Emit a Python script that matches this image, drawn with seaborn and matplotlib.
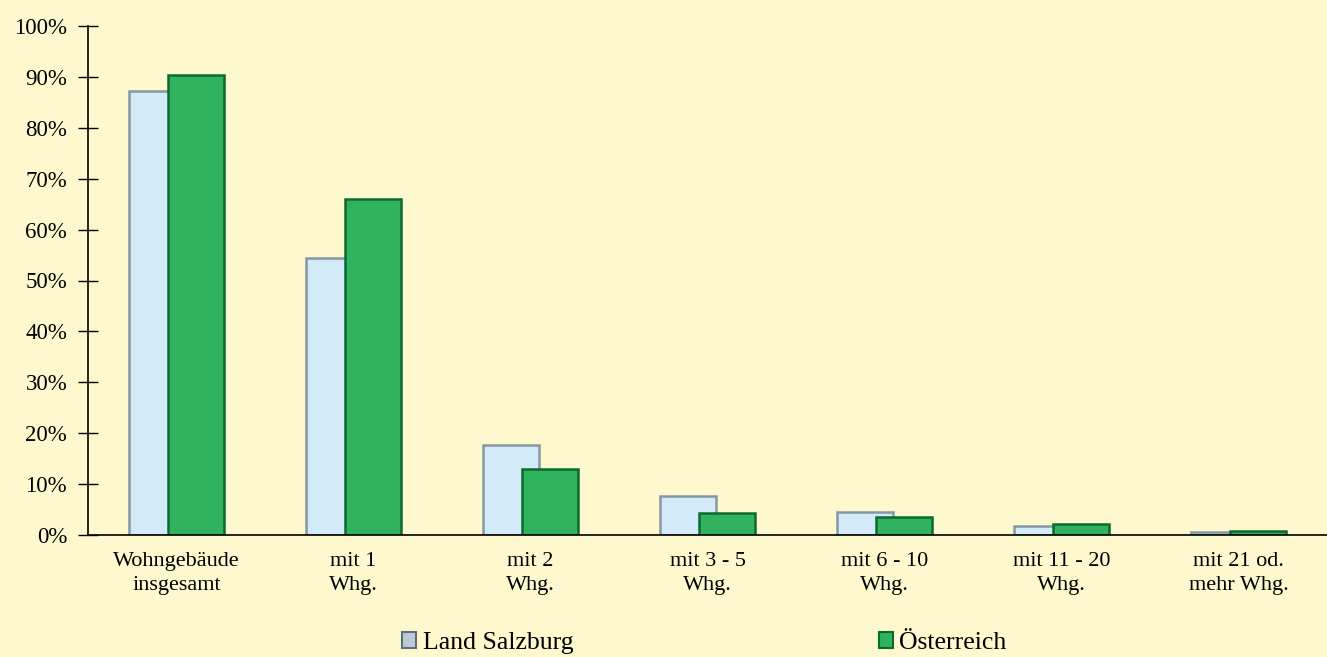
"""
Wohngebäude nach Anzahl der Wohnungen: Land Salzburg vs. Österreich (Anteile in %).
"""

import matplotlib.pyplot as plt
import pandas as pd
import seaborn as sns
from matplotlib.patches import Patch
from matplotlib.ticker import FixedLocator, PercentFormatter

# ── Daten ──────────────────────────────────────────────────────────
categories = [
    "Wohngebäude\ninsgesamt",
    "mit 1\nWhg.",
    "mit 2\nWhg.",
    "mit 3 - 5\nWhg.",
    "mit 6 - 10\nWhg.",
    "mit 11 - 20\nWhg.",
    "mit 21 od.\nmehr Whg.",
]
series_names = ["Land Salzburg", "Österreich"]
salzburg = [87.3, 54.5, 17.6, 7.6, 4.6, 1.7, 0.6]
oesterreich = [90.3, 66.0, 13.0, 4.3, 3.5, 2.2, 0.8]

BG = "#FDF8CD"
C_SBG = "#D3EBF8"
C_SBG_EDGE = "#8796A2"
C_AUT = "#30B25E"
C_AUT_EDGE = "#0C6A2F"

df = pd.DataFrame({
    "Kategorie": categories * 2,
    "Serie": [series_names[0]] * len(categories) + [series_names[1]] * len(categories),
    "Anteil": salzburg + oesterreich,
})

sns.set_theme(style="white")
plt.rcParams["font.family"] = ["Liberation Serif", "DejaVu Serif"]
plt.rcParams["text.color"] = "black"
plt.rcParams["xtick.color"] = "black"
plt.rcParams["ytick.color"] = "black"

fig = plt.figure(figsize=(13.27, 6.57), dpi=100, facecolor=BG)
ax = fig.add_axes([88 / 1327, 122 / 657, 1 - 88 / 1327, 509 / 657])
ax.set_facecolor(BG)

sns.barplot(
    data=df, x="Kategorie", y="Anteil", hue="Serie",
    palette=[C_SBG, C_AUT], saturation=1, width=0.8, legend=False, ax=ax,
)

# Balken schmaler und überlappend wie im Original
bar_w = 0.316
offset = 0.11
n = len(categories)
for i, patch in enumerate(ax.patches[: 2 * n]):
    grp = i // n
    cx = (i % n) + (-offset if grp == 0 else offset)
    patch.set_width(bar_w)
    patch.set_x(cx - bar_w / 2)
    patch.set_edgecolor(C_SBG_EDGE if grp == 0 else C_AUT_EDGE)
    patch.set_linewidth(1.8)

ax.set_xlim(-0.5, n - 0.5)
ax.set_ylim(0, 100)
ax.set_yticks(range(0, 101, 10))
ax.yaxis.set_major_formatter(PercentFormatter(decimals=0))
ax.set_xlabel("")
ax.set_ylabel("")

# Kategorie-Beschriftungen ohne Striche, Striche an den Grenzen
ax.set_xticks(range(n))
ax.set_xticklabels(categories, fontsize=16, linespacing=1.4, color="black")
ax.tick_params(axis="x", which="major", length=0, pad=12)
ax.xaxis.set_minor_locator(FixedLocator([k - 0.5 for k in range(n + 1)]))
ax.tick_params(axis="x", which="minor", direction="inout", length=14, width=1, color="#333333")
ax.tick_params(axis="y", direction="inout", length=14, width=1, color="black",
               labelcolor="black", labelsize=16.5, pad=8)
ax.tick_params(left=True, bottom=True)

for side in ["top", "right"]:
    ax.spines[side].set_visible(False)
for side in ["left", "bottom"]:
    ax.spines[side].set_color("black")
    ax.spines[side].set_linewidth(1.2)

# ── Legende ───────────────────────────────────────────────────────
handles = [
    Patch(facecolor="#B9CBD8", edgecolor="#5F6F7C", linewidth=1.5),
    Patch(facecolor=C_AUT, edgecolor=C_AUT_EDGE, linewidth=1.5),
]
fig.legend(
    handles, series_names, loc="center left",
    bbox_to_anchor=(402 / 1327, 1 - 643 / 657), ncol=2, frameon=False,
    fontsize=18.5, handlelength=0.55, handleheight=0.55, handletextpad=0.25,
    columnspacing=11.9, borderpad=0, borderaxespad=0, labelcolor="black",
)

fig.savefig("out.png", dpi=100, facecolor=BG)
plt.close(fig)
